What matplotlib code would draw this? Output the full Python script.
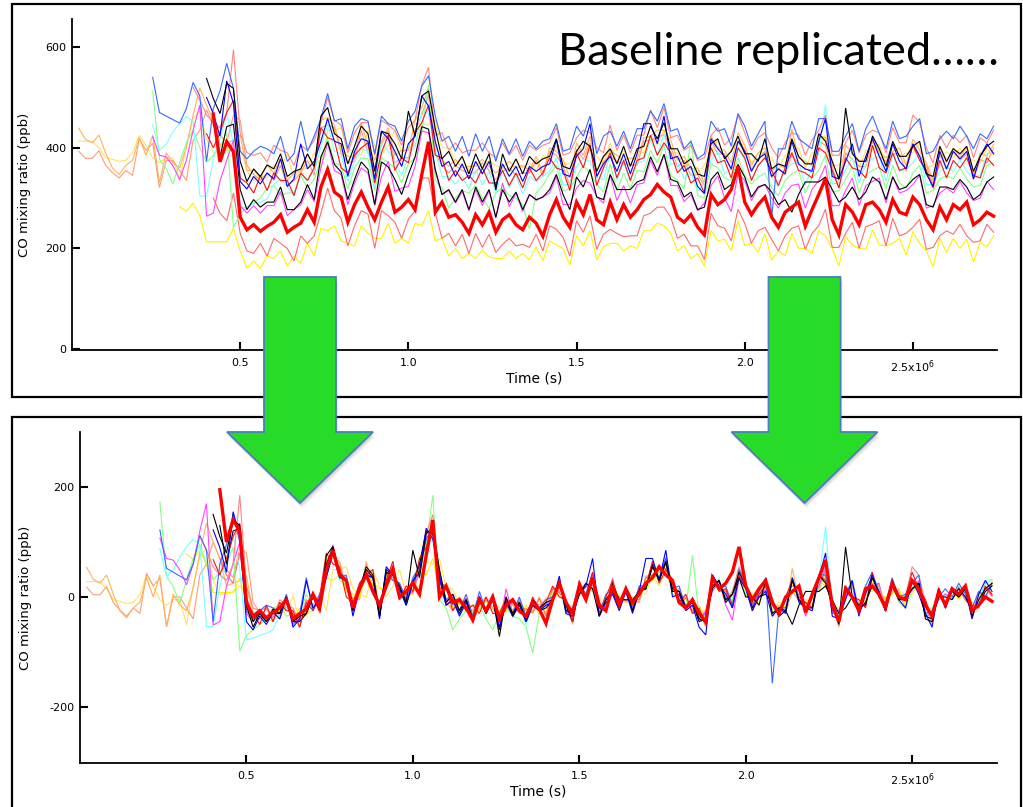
import numpy as np
import matplotlib.pyplot as plt
from matplotlib.patches import Polygon, Rectangle

plt.rcParams['mathtext.default'] = 'regular'
plt.rcParams['axes.unicode_minus'] = False
plt.rcParams['font.family'] = ['DejaVu Sans']

# sampling interval of every leg (s)
dt = 0.02e6

# CO anomalies (ppb), baseline removed, one list per leg
red_thick = [195, 100, 140, 120, -10, -35, -25, -38, -28, -20,
             -5, -40, -30, -22, 5, -20, 50, 85, 40, 30,
             -20, 15, 40, 10, -15, 20, 50, 0, 10, 25,
             5, 75, 140, 0, 20, -10, -5, -20, -42, -5,
             -25, 0, -40, -15, -5, -25, -35, -10, -22, -48,
             -5, 25, -10, -30, 20, -5, 35, -15, -25, 20,
             -15, 15, -10, 5, 25, 35, 55, 40, 30, -10,
             -20, -5, -30, -45, 35, 15, 25, 45, 91, 20,
             -5, 15, 30, -10, -30, 0, 10, 20, -28, 5,
             35, 67, -15, -45, 15, 0, -25, 15, 20, 5,
             -20, 25, 0, -5, 30, 15, -15, -35, 10, -15,
             15, 5, 20, -25, -15, 0, -8]
red_thin = [68, 40, 70, 110, 134, -20, -30, -50, -15, -45,
            -10, -25, -25, -55, -10, -25, 0, 80, 60, 55,
            0, -10, 25, 40, 50, -30, 30, 65, -5, 20,
            10, 70, 90, 125, 25, 20, -25, -5, -25, -15,
            -30, 0, -30, -30, -5, -35, -10, -40, 0, -25,
            -10, 20, 0, -5, -45, 30, 0, 45, -35, 0,
            30, -20, 15, -25, 15, 20, 65, 25, 50, 30,
            -10, 5, -30, -20, -50, 40, 10, 15, -20, 40,
            20, -25, 5, 20, -5, -35, 0, 30, -5, -10,
            -20, 40, 30, -5, -40, 20, 0, -5, -20, 45,
            0, -10, 30, -5, 0, 45, 15, -5, -40, 15,
            -20, 15, 0, 20, -15, -20, 20, 5]
blue = [122, 90, 45, 155, 110, -45, -60, -35, -50, -28,
        -40, 0, -55, -40, 30, -20, -5, 35, 80, 35,
        30, -35, 15, 40, 35, -40, 55, 40, 15, -15,
        30, 45, 125, 105, 35, -15, -5, -35, -10, -40,
        -5, -30, -5, -55, -10, -35, -15, -45, -15, -25,
        -15, -10, 38, -30, -35, 5, 20, 70, -35, -10,
        5, -25, 10, -30, 10, 70, 70, 30, 85, 0,
        5, -25, -15, -55, -69, 40, 20, 5, -20, 35,
        15, -25, 0, 10, -35, -20, -30, 35, -10, -20,
        -25, 35, 80, -35, -40, -5, 30, -35, 5, 40,
        5, -25, 30, -5, -20, 30, 5, -30, -55, 15,
        -20, 15, 0, 15, -40, 5, 30, 10]
royal_blue = [122, 52, 45, 38, 31, 60, 112, 85, -45, 60,
              95, 150, 100, -25, -40, -25, -15, -20, -30, 5,
              -45, -30, 35, -25, 5, 40, 90, 35, 40, -20,
              25, 40, 35, -30, 45, 30, 25, -5, 35, 55,
              105, 125, 45, -5, 5, -25, 5, -35, 10, -25,
              5, -45, 0, -30, 0, -35, -5, -20, -5, 0,
              30, -25, -20, 25, 5, 45, -30, 5, 15, -15,
              15, -20, 20, 20, 55, 35, 70, 15, 20, -20,
              -5, -40, -30, 35, 15, 20, -15, 50, 25, -15,
              10, 35, -157, -20, -20, 35, 0, -10, -20, 40,
              40, -25, -25, 5, 30, -25, 20, 45, 10, -20,
              35, 0, 5, 25, 40, -30, -25, 0, 15, 0,
              25, 5, -20, 10, 0, 25]
black_a = [150, 110, 80, 140, 130, -15, -55, -30, -45, -22,
           -30, 0, -45, -35, -30, 0, -25, 75, 92, 40,
           30, -20, 15, 55, 40, -35, 45, 40, 20, -10,
           85, 35, 115, 125, 50, -10, 5, -25, -5, -40,
           0, -30, 0, -72, 0, -35, -10, -40, -5, -20,
           -10, -5, 30, -25, -30, 5, 25, 15, -35, -5,
           10, -20, 15, -25, 10, 15, 55, 30, 62, 10,
           10, -20, -10, -40, -45, 20, 30, -10, 5, 35,
           0, 0, -15, 30, -30, -20, -25, 30, -5, -20,
           -20, 40, 25, -15, -50, 91, 0, -15, -15, 35,
           10, -25, 25, -5, -5, 15, 25, -40, -45, 15,
           -15, 10, 0, 15, -35, -5, 15, 25]
black_b = [130, 60, 120, 125, -5, -45, -25, -40, -30, -30,
           0, -45, -45, -30, 5, -25, 60, 90, 45, 30,
           -25, 15, 50, 35, -35, 50, 40, 15, -15, 25,
           60, 120, 115, 35, -15, -5, -30, -5, -45, 0,
           -30, -5, -60, -5, -30, -10, -45, -15, -25, -20,
           -5, 25, -15, -45, 20, 0, 35, -20, -25, 25,
           -5, -5, -5, 10, 15, 60, 30, 65, 15, 10,
           -20, -10, -45, -40, 15, 30, -5, 5, 45, 20,
           -20, 0, 5, -10, -35, -25, -50, -15, 10, 10,
           10, 20, -5, -30, -20, 0, -25, -10, 20, 10,
           -25, 20, -5, 0, 15, 25, -35, -40, 0, 0,
           -5, 15, 0, -25, -15, 10, 20]
salmon_hi = [110, 85, 55, 40, 30, 60, 185, 20, -20, -25,
             -20, -38, -5, -15, -20, -45, -5, -15, 5, 40,
             90, 45, 35, -20, 20, 40, 40, -25, 45, 35,
             25, -5, 30, 45, 115, 150, 15, 20, -15, 0,
             -20, -15, -15, 0, -20, -30, 0, -25, -5, -35,
             -5, -15, -5, 0, 30, -25, -20, 10, 25, 20,
             -10, -20, 35, -15, 15, -20, 15, 15, 65, 30,
             70, 10, 15, -15, -5, -35, -30, 15, 30, -5,
             10, 55, 20, -15, 10, 20, -10, -30, 0, 20,
             15, -25, 5, 25, 55, -25, -25, 0, 25, -20,
             15, 25, 20, -20, 30, 0, 0, 55, 40, -10,
             -40, 15, -10, 15, 0, 15, -30, 10, 0, 25]
salmon_lo = [70, 40, 25, 80, 0, -35, -40, -20, -45, -10,
             -20, -30, -55, -5, -20, -5, 40, 90, 45, 30,
             -25, 15, 45, 38, -30, 45, 35, 22, -10, 28,
             45, 110, 110, 40, -10, 0, -25, -2, -40, 0,
             -28, -2, -38, -22, -10, -25, -22, -28, -2, -35,
             15, 8, -8, -45, 25, 2, 35, -32, -2, 8,
             0, -7, -5, -5, 35, 40, 52, 52, 32, -10,
             -2, -25, -25, -52, 40, 15, 10, -15, 48, 20,
             -20, 5, 12, -12, -35, -5, 10, 15, -32, 0,
             15, 48, -28, -28, 0, 22, -30, 13, 18, 25,
             -25, 30, -5, 0, 12, 28, -32, -28, -5, 5,
             -2, 18, -5, -18, -15, 18, 2]
yellow_lo = [78, 68, 85, 60, 8, 8, 8, 8, 35, -10,
             -44, -30, -45, -20, -25, -10, -40, -20, -35, 5,
             -20, 35, 30, 40, 10, 5, 0, 40, 25, 15,
             15, 45, 5, 15, 5, 45, 40, 70, 10, 15,
             -20, -5, -25, -15, -25, -8, -22, -25, -25, -10,
             -25, -15, -28, -2, -30, 10, 2, -5, -38, 20,
             0, 30, -28, -2, 5, 5, -10, 0, -5, 30,
             30, 45, 40, 25, -10, 0, -25, -15, -40, 30,
             10, 13, -10, 50, 0, 5, -13, 25, -28, -10,
             -20, 25, -5, -5, -15, 30, 20, -5, -40, 18,
             2, -5, -7, 32, 2, 0, 5, 15, -18, 28,
             5, -10, -42, 15, -13, 15, -5, 13, -32, 7,
             -2, 20]
green = [173, 37, 19, -12, 31, 70, 95, 60, 31, 45,
         61, 90, -99, -70, -60, -50, -40, -20, -15, -35,
         -30, -30, 5, -20, -2, 35, 80, 30, 25, -22,
         20, 40, 38, -25, 40, 30, 20, -10, 28, 40,
         95, 185, -5, -20, -60, -40, -25, -30, -15, -40,
         -60, -30, -18, -35, -40, -54, -102, -30, -15, 8,
         25, -25, -22, 2, 25, 10, -12, -28, 28, -25,
         10, -22, 15, 12, 55, 30, 65, 5, -5, -22,
         76, -35, -40, 28, 20, 0, -5, 40, 5, -12,
         2, 10, -20, -35, -5, 8, 15, -30, 0, 15,
         45, -28, -25, -2, 22, -30, 7, 15, 22, -22,
         25, -10, -20, 10, 25, -30, -25, -2, 5, -2,
         20, -2, -18, -15, 25, 30]
cyan = [88, 37, 49, 73, 91, 104, 95, -54, -54, 20,
        60, 110, 50, -78, -75, -70, -66, -60, -30, -20,
        -35, -55, -10, -22, -5, 45, 90, 35, 30, -25,
        15, 40, 35, -35, 50, 35, 15, -13, 25, 45,
        115, 110, 35, -15, -15, -30, -15, -40, -2, -32,
        -5, -48, -2, -38, -12, -50, -15, -25, -15, -5,
        22, -32, -30, 5, 20, 15, -15, -22, 30, -22,
        12, -25, 12, 15, 58, 28, 70, 10, 10, -20,
        -8, -45, -30, 18, 35, -10, 2, 40, 18, -20,
        5, 25, -15, -35, -2, 10, 15, -32, 2, 30,
        128, -30, -28, -2, 22, -28, 10, 20, 25, -25,
        28, -5, 0, 12, 30, -32, -30, -5, 5, -5,
        18, -5, -18, -13, 30, 32]
magenta = [107, 70, 67, 49, 22, 60, 120, 170, -51, -45,
           19, 60, 100, -30, -45, -30, -45, -30, -30, -2,
           -50, -38, -28, 2, -22, 45, 95, 40, 32, -28,
           15, 45, 35, -30, 28, 58, -2, 5, 8, 48,
           118, 115, 38, -8, 0, -25, -2, -40, 2, -30,
           0, -55, 15, -32, -5, -42, -8, -20, -12, -5,
           28, -28, -28, 5, 20, 15, -12, -25, 30, -20,
           10, -25, 12, 15, 60, 30, 72, 10, 10, -22,
           -8, -40, -25, 10, 29, -15, -42, 35, 20, -20,
           5, 12, -15, -35, -5, 10, 13, -35, 2, 20,
           50, -30, -30, 0, 25, -30, 10, 18, 25, -25,
           28, -5, 0, 12, 30, -35, -30, -5, 5, -5,
           18, -5, -20, -15, 18, 2]
orange = [54, 32, 25, 40, 5, -25, -38, -20, -10, 35,
          0, 40, -54, 5, -15, -25, 15, 80, 134, 100,
          70, 20, 25, 30, 40, -30, -30, -45, -20, -35,
          -5, -50, -35, -30, 2, -25, 70, 75, 60, 10,
          -2, -5, 65, 18, -10, 28, 55, 0, 10, 10,
          70, 95, 135, 20, -10, -22, -8, -25, -22, -22,
          -8, -22, -35, -25, -12, -25, -20, -30, -2, -35,
          15, 8, -8, -45, 25, 0, 38, -32, -5, 10,
          0, -10, -5, -8, 35, 38, 50, 50, 30, -10,
          -2, -28, -25, -55, 38, 15, 10, -15, 45, 20,
          -20, 5, 15, -32, -18, -25, 52, -5, -12, -20,
          40, 35, -10, -50, 20, 5, -10, -10, 40, 5,
          -5, 8, 15, -20, 32, 10, -15, -50, 15, -15,
          15, -2, 15, -40, 5, -2, 22]
peach = [18, 4, 4, 19, -10, -24, -35, -20, -30, 43,
         20, 34, -54, 0, 0, -20, -40, 40, 60, 100,
         70, 50, 35, 90, 80, -10, -28, -40, -25, -40,
         -10, -50, -40, -25, 0, -30, 65, 70, 65, 15,
         -5, -2, 60, 15, -15, 32, 58, -5, 5, 5,
         60, 90, 130, 15, -10, -25, -10, -20, -25, -25,
         -5, -20, -38, -22, -15, -30, -25, -25, 0, -32,
         18, 10, -12, -50, 22, 2, 35, -35, -2, 8,
         -2, -7, -8, -10, 38, 40, 45, 52, 28, -13,
         0, -30, -28, -50, 40, 12, 13, -20, 40, 22,
         -18, 0, 18, -35, -15, -28, 10, -7, -18, -18,
         38, 30, -12, -55, 15, 2, -12, -13, 38, 8,
         -2, 12, 13, -22, 30, 12, -12, -48, 13, -18,
         18, 0, 13, -38, 2, -5, 25]
yellow_early = [28, 28, 28, 15, -5, -8, -12, -10, 5, 40,
                20, -5, -15, -5, -5, -51, 20, 73, 88, 31,
                5, 5, 10, 20, 15, -30, -50, -40, -45, -20,
                -25, 2, -45, -30, -25, 5, -25, 50, 50, 55,
                15, 5, 0, 50, 20, 0, 20, 50, 5, 15,
                20, 65, 60, 70, 15, 15, -15, -5, -30, -15,
                -25, -10, -20, -25, -30, -10, -25, -15, -30, 0,
                -10, 20, -20, -15, 0, 18, 10, -2, -18, 25,
                -15, 10, -20, 10, 5, 40, 20, 50, 5, 5,
                -25, -5, -35, -20, 10, 30, -5, 10, 25, 20,
                -15, 5, 5, -5, -30, 0, 5, 15, -25, 5,
                10, 40, -20, -20, 0, 20, -25, 10, 10, 22,
                -18, 25, -5, 5, 5, 25, -25, -20, -5, 7,
                -5, 15, -7, -10, -15, 15, 0]

# first sample time of each leg (1e6 s) and its CO baseline (ppb)
legs = [yellow_early, peach, orange, yellow_lo, salmon_lo, green, cyan,
        magenta, salmon_hi, royal_blue, black_b, red_thin, blue, black_a,
        red_thick]
starts = [0.02, 0.02, 0.02, 0.32, 0.42, 0.24, 0.24,
          0.24, 0.36, 0.24, 0.42, 0.40, 0.40, 0.40,
          0.42]
baselines = [385, 375, 385, 205, 230, 340, 358,
             315, 410, 418, 322, 360, 378, 388,
             272]

colors = ['#FFE45C', '#FF9A7A', '#FFB25A', '#FFF200', '#FF6A6A', '#86FF86',
          '#7DFFFF', '#FF44FF', '#FF8585', '#3A68FF', '#000000', '#FF1010',
          '#0000FF', '#000000', '#FF0000']
widths = [0.8] * 14 + [2.4]

xticks = [0.5e6, 1.0e6, 1.5e6, 2.0e6, 2.5e6]
xticklabels = ['0.5', '1.0', '1.5', '2.0', '2.5x10$^{6}$']

W, H = 1023, 807
fig = plt.figure(figsize=(W / 100, H / 100), dpi=100)


def px_box(left, top, right, bottom):
    return [left / W, 1 - bottom / H, (right - left) / W, (bottom - top) / H]


ax1 = fig.add_axes(px_box(72, 19, 997, 350))
ax2 = fig.add_axes(px_box(80, 432, 997, 763))

for vals, t0, base, c, lw in zip(legs, starts, baselines, colors, widths):
    v = np.array(vals, dtype=float)
    t = t0 * 1e6 + dt * np.arange(len(v))
    ax1.plot(t, v + base, color=c, lw=lw, solid_joinstyle='miter')
    ax2.plot(t, v, color=c, lw=lw, solid_joinstyle='miter')

ax1.set_xlim(0, 2.75e6)
ax1.set_ylim(-2, 656)
ax1.set_yticks([0, 200, 400, 600])
ax2.set_xlim(0, 2.755e6)
ax2.set_ylim(-302, 300)
ax2.set_yticks([-200, 0, 200])

for ax, lx in ((ax1, -0.0445), (ax2, -0.0525)):
    ax.set_xticks(xticks)
    ax.set_xticklabels(xticklabels)
    for s in ('top', 'right'):
        ax.spines[s].set_visible(False)
    for s in ('left', 'bottom'):
        ax.spines[s].set_linewidth(1.3)
    ax.tick_params(direction='in', length=6, width=1.5, labelsize=8)
    ax.tick_params(axis='y', pad=4)
    ax.tick_params(axis='x', pad=6)
    ax.set_ylabel('CO mixing ratio (ppb)', fontsize=9.5)
    ax.yaxis.set_label_coords(lx, 0.5)
    ax.set_xlabel('Time (s)', fontsize=10)
    ax.xaxis.set_label_coords(0.5, -0.085)
    ax.xaxis.label.set_verticalalignment('center')

# panel frames
for top, bottom in ((4, 397), (417, 815)):
    fig.add_artist(Rectangle((12 / W, 1 - bottom / H), (1021 - 12) / W,
                             (bottom - top) / H, fill=False, lw=1.6,
                             ec='black', transform=fig.transFigure, zorder=5))

fig.text(999 / W, 1 - 65 / H, 'Baseline replicated……', ha='right',
         va='baseline', fontsize=32.5, family=['Lato', 'DejaVu Sans'])


def arrow(cx, shaft_half, head_half, shaft_top, head_y, tip_y):
    pts = [(cx - shaft_half, shaft_top), (cx + shaft_half, shaft_top),
           (cx + shaft_half, head_y), (cx + head_half, head_y),
           (cx, tip_y), (cx - head_half, head_y), (cx - shaft_half, head_y)]
    return pts


for cx in (300, 804.5):
    pts = arrow(cx, 36, 73, 277, 432, 503)
    for k, a in ((5, 0.08), (3.5, 0.12), (2, 0.15)):
        shadow = [((x + k * 0.4) / W, 1 - (y + k) / H) for x, y in pts]
        fig.add_artist(Polygon(shadow, closed=True, fc='#606060', ec='none',
                               alpha=a, transform=fig.transFigure, zorder=9))
    fig.add_artist(Polygon([(x / W, 1 - y / H) for x, y in pts], closed=True,
                           fc='#29DB29', ec='#4A7EBB', lw=1.3,
                           transform=fig.transFigure, zorder=10))

fig.savefig('out.png', dpi=100, facecolor='white')
